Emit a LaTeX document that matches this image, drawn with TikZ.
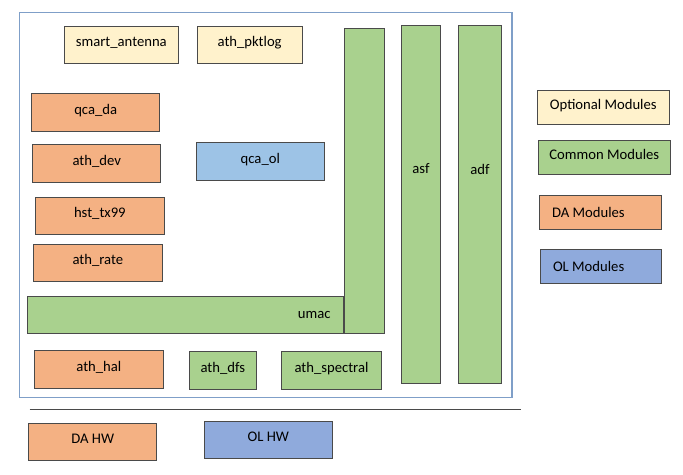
\documentclass[tikz,border=0pt]{standalone}
\usepackage{fontspec}
\setmainfont{Carlito}
\definecolor{optfill}{HTML}{FFF2CC}
\definecolor{comfill}{HTML}{A9D18E}
\definecolor{dafill}{HTML}{F4B183}
\definecolor{olfill}{HTML}{9DC3E6}
\definecolor{hwfill}{HTML}{8FAADC}
\definecolor{boxline}{HTML}{4A4A4A}
\definecolor{frameline}{HTML}{7F9FC8}
\begin{document}
\begin{tikzpicture}[x=0.75pt,y=-0.75pt,font=\fontsize{11}{13}\selectfont,
    box/.style={draw=boxline,line width=0.75pt,inner sep=0pt,outer sep=0pt,
        text height=7pt,text depth=4.2pt},
    opt/.style={box,fill=optfill},
    com/.style={box,fill=comfill},
    da/.style={box,fill=dafill},
    ol/.style={box,fill=olfill},
    hw/.style={box,fill=hwfill}]
\useasboundingbox (0,0) rectangle (683,475);
\node[draw=frameline,line width=1.1pt,inner sep=0pt,minimum width=369.4pt,minimum height=288.8pt] (frame) at (265.75,205.2) {};
\foreach \n/\s/\xa/\ya/\xb/\yb/\t in {
    smart/opt/64.3/26.3/178.3/63.3/smart\_antenna,
    pktlog/opt/197.3/26.3/302/63.3/ath\_pktlog,
    qcada/da/31.7/93.7/159.7/131/qca\_da,
    dev/da/32.7/144.7/160.7/182.3/ath\_dev,
    qcaol/ol/196.3/142.7/324.3/180/qca\_ol,
    tx99/da/35.7/197.3/164/234.3/hst\_tx99,
    rate/da/33.7/244.3/162/281.3/ath\_rate,
    hal/da/34.7/350.7/163/388/ath\_hal,
    dfs/com/189.3/351.7/256.3/389.3/ath\_dfs,
    spectral/com/281.3/351.7/381.7/389.3/ath\_spectral,
    dahw/da/28.7/423.3/156.7/460.3/DA HW,
    olhw/hw/204.3/421.3/332.3/458.3/OL HW,
    optleg/opt/537.3/90.3/669.3/124.3/Optional Modules,
    comleg/com/538.3/140.3/670.3/174.3/Common Modules,
    umac/com/27.7/296.3/343.3/333.3/,
    umacv/com/344/28.3/384/333.3/,
    asf/com/401.3/25.3/440.7/383.7/,
    adf/com/458.3/25.3/501.7/383.7/,
    daleg/da/539.3/195/661.3/229.3/,
    olleg/hw/540.3/249.3/661.3/283.7/}
    \node[\s,minimum width={(\xb-\xa)*0.75pt},minimum height={(\yb-\ya)*0.75pt}]
        (\n) at ({(\xa+\xb)/2},{(\ya+\yb)/2}) {\t};
% texts off centre
\node[anchor=east] (umactxt) at ([xshift=-6pt]umac.east) {umac};
\node (asftxt) at (asf.center |- 0,169) {asf};
\node (adftxt) at (adf.center |- 0,169) {adf};
\node[anchor=west] (datxt) at ([xshift=6pt]daleg.west) {DA Modules};
\node[anchor=west] (oltxt) at ([xshift=6pt]olleg.west) {OL Modules};
\coordinate (hl) at (29.7,409.3);
\coordinate (hr) at (521,409.3);
\draw[boxline,line width=0.75pt] (hl) -- (hr);
\end{tikzpicture}
\end{document}
